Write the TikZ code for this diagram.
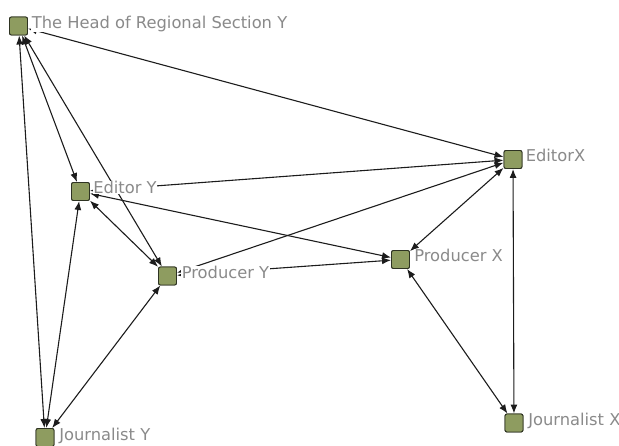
\documentclass[tikz,border=0pt]{standalone}
\usepackage{fontspec}
\setmainfont{DejaVu Sans}
\usetikzlibrary{arrows.meta}
\definecolor{nodefill}{HTML}{8E9C60}
\definecolor{nodeedge}{HTML}{2E3322}
\definecolor{labelgray}{HTML}{8A8A8A}
\definecolor{edgecol}{HTML}{1C1C1C}
\tikzset{
  actor/.style={rectangle, rounded corners=2pt, draw=nodeedge, line width=0.9pt, fill=nodefill, minimum width=18pt, minimum height=18pt, inner sep=0pt},
  lbl/.style={anchor=base west, fill=white, inner sep=0.6pt, text=labelgray, font=\fontsize{16.3pt}{18pt}\selectfont},
  tie/.style={draw=edgecol, line width=1.1pt, {Latex[length=9pt,width=7pt]}-{Latex[length=9pt,width=7pt]}}
}
\begin{document}
\begin{tikzpicture}[x=1pt,y=-1pt]
\useasboundingbox (0,0) rectangle (619,446);
% nodes
\node[actor] (hd) at (18.5,26) {};
\node[actor] (ey) at (80.5,191.5) {};
\node[actor] (py) at (167.5,276) {};
\node[actor] (px) at (400.5,259.5) {};
\node[actor] (ex) at (513,159.5) {};
\node[actor] (jy) at (45,437.5) {};
\node[actor] (jx) at (514,423) {};
% ties
\draw[tie] (hd) -- (ex);
\draw[tie] (hd) -- (ey);
\draw[tie] (hd) -- (py);
\draw[tie] (hd) -- (jy);
\draw[tie] (ey) -- (ex);
\draw[tie] (ey) -- (px);
\draw[tie] (ey) -- (py);
\draw[tie] (ey) -- (jy);
\draw[tie] (py) -- (ex);
\draw[tie] (py) -- (px);
\draw[tie] (py) -- (jy);
\draw[tie] (px) -- (ex);
\draw[tie] (px) -- (jx);
\draw[tie] (ex) -- (jx);
% redraw squares on top
\node[actor] at (hd) {};
\node[actor] at (ey) {};
\node[actor] at (py) {};
\node[actor] at (px) {};
\node[actor] at (ex) {};
\node[actor] at (jy) {};
\node[actor] at (jx) {};
% labels
\node[lbl] (hdl) at (31,28.5) {The Head of Regional Section Y};
\node[lbl] (eyl) at (92.5,193.5) {Editor Y};
\node[lbl] (pyl) at (181,278.5) {Producer Y};
\node[lbl] (pxl) at (413.5,262) {Producer X};
\node[lbl] (exl) at (525,162) {EditorX};
\node[lbl] (jyl) at (58.5,441) {Journalist Y};
\node[lbl] (jxl) at (527.5,425) {Journalist X};
\end{tikzpicture}
\end{document}
